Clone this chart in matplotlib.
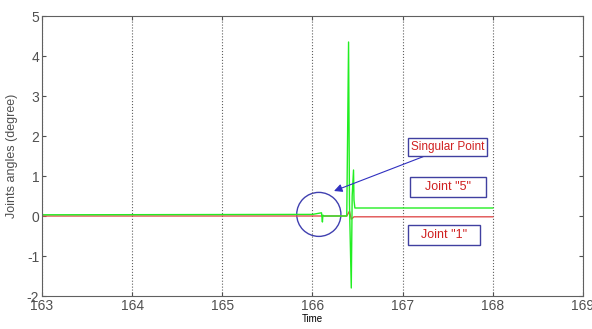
import numpy as np
import matplotlib
matplotlib.use('Agg')
import matplotlib.pyplot as plt
from matplotlib.patches import Ellipse, Rectangle

# joint "5" (green) samples
t5 = [163.0, 166.0, 166.10, 166.11, 166.115, 166.13, 166.38, 166.40, 166.41, 166.43,
      166.44, 166.455, 166.46, 166.47, 168.0]
j5 = [0.03, 0.04, 0.08, -0.15, 0.02, 0.0, 0.0, 4.35, 0.3, -1.8,
      0.5, 1.15, 0.4, 0.2, 0.2]
# joint "1" (red)
t1 = [163.0, 166.38, 166.41, 166.43, 166.46, 168.0]
j1 = [0.0, 0.0, 0.12, -0.08, -0.02, -0.02]

xticks = [163, 164, 165, 166, 167, 168, 169]
yticks = [-2, -1, 0, 1, 2, 3, 4, 5]

plt.rcParams['font.family'] = ['Liberation Sans', 'DejaVu Sans']
plt.rcParams['axes.unicode_minus'] = False
fig = plt.figure(figsize=(5.92, 3.29), dpi=100)
ax = fig.add_axes([42/592, 33/329, 541/592, 280/329])

ax.plot(t1, j1, color='#e05050', lw=1)
ax.plot(t5, j5, color='#22ee22', lw=1)

ax.set_xlim(163, 169)
ax.set_ylim(-2, 5)
ax.set_xticks(xticks)
ax.set_yticks(yticks)
ax.tick_params(direction='in', length=3, labelsize=10, colors='#505050',
               top=True, right=True, pad=2)
for s in ax.spines.values():
    s.set_color('#606060')
ax.xaxis.grid(True, linestyle=':', color='#606060', lw=0.8)
ax.set_xlabel('Time', fontsize=7, labelpad=1)
ax.set_ylabel('Joints angles (degree)', fontsize=9, color='#505050', labelpad=6)

ax.add_patch(Ellipse((166.07, 0.04), 0.49, 1.1, fill=False, ec='#4040b0', lw=1))
ax.annotate('Singular Point', xy=(166.21, 0.6), xytext=(167.5, 1.72),
            fontsize=8.5, color='#d02020', ha='center', va='center',
            bbox=dict(boxstyle='square,pad=0.25', fc='white', ec='#4040a0', lw=1),
            arrowprops=dict(arrowstyle='-|>', color='#3030c0', lw=0.8,
                            mutation_scale=12, shrinkA=0))
# label boxes: (text, x0, y0, width, height)
for txt, x0, y0, w, h in [('Joint "5"', 167.08, 0.47, 0.84, 0.5),
                          ('Joint "1"', 167.06, -0.72, 0.80, 0.5)]:
    ax.add_patch(Rectangle((x0, y0), w, h, fc='white', ec='#4040a0', lw=1, zorder=3))
    ax.text(x0 + w/2, y0 + h/2, txt, fontsize=9, color='#d02020',
            ha='center', va='center', zorder=4)

fig.savefig('out.png')
